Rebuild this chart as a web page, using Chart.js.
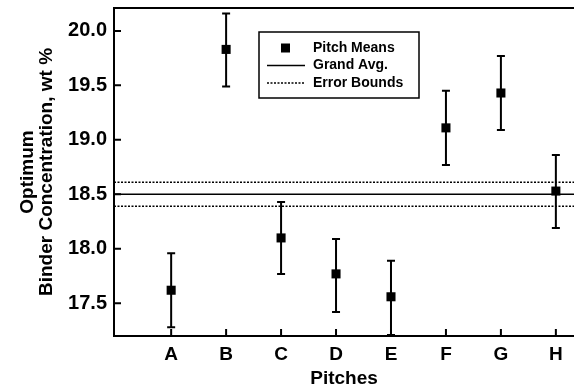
<!DOCTYPE html>
<html>
<head>
<meta charset="utf-8">
<script src="https://cdn.jsdelivr.net/npm/chart.js@4/dist/chart.umd.min.js"></script>
<style>
  html, body { margin: 0; padding: 0; background: #fff; }
  #wrap { width: 574px; height: 392px; }
</style>
</head>
<body>
<div id="wrap"><canvas id="chart" width="574" height="392"></canvas></div>
<script>
const pitches = ["A", "B", "C", "D", "E", "F", "G", "H"];
const pitchMeans = [17.62, 19.83, 18.10, 17.77, 17.56, 19.11, 19.43, 18.53];
const errorHigh = [17.96, 20.16, 18.43, 18.09, 17.89, 19.45, 19.77, 18.86];
const errorLow = [17.28, 19.49, 17.77, 17.42, 17.21, 18.77, 19.09, 18.19];
const grandAvg = 18.5;
const errorBounds = [18.61, 18.39];
const yTicks = [17.5, 18.0, 18.5, 19.0, 19.5, 20.0];
const xRange = [-0.04, 8.33];
const yRange = [17.2, 20.21];

const FONT = "'Liberation Sans', Arial, sans-serif";

// error bars, inward ticks, top frame and the legend box
const extras = {
  id: "extras",
  afterDatasetsDraw(chart) {
    const { ctx, chartArea: a, scales: { x, y } } = chart;
    ctx.save();
    ctx.strokeStyle = "#000";

    // error bars
    ctx.lineWidth = 2;
    pitchMeans.forEach((m, i) => {
      const px = x.getPixelForValue(i + 1);
      const top = y.getPixelForValue(errorHigh[i]);
      const bot = y.getPixelForValue(errorLow[i]);
      ctx.beginPath();
      ctx.moveTo(px, top); ctx.lineTo(px, bot);
      ctx.moveTo(px - 4, top); ctx.lineTo(px + 4, top);
      ctx.moveTo(px - 4, bot); ctx.lineTo(px + 4, bot);
      ctx.stroke();
    });

    // inward ticks
    ctx.lineWidth = 2;
    ctx.beginPath();
    yTicks.forEach(v => {
      const py = y.getPixelForValue(v);
      ctx.moveTo(a.left, py); ctx.lineTo(a.left + 7, py);
    });
    pitches.forEach((p, i) => {
      const px = x.getPixelForValue(i + 1);
      ctx.moveTo(px, a.bottom); ctx.lineTo(px, a.bottom - 7);
    });
    ctx.stroke();

    // top frame
    ctx.lineWidth = 2;
    ctx.beginPath();
    ctx.moveTo(a.left, a.top); ctx.lineTo(a.right, a.top);
    ctx.stroke();

    // legend
    const lx = 259, ly = 32, lw = 160, lh = 66;
    ctx.fillStyle = "#fff";
    ctx.fillRect(lx, ly, lw, lh);
    ctx.lineWidth = 1.5;
    ctx.strokeRect(lx, ly, lw, lh);
    ctx.fillStyle = "#000";
    ctx.font = "bold 14px " + FONT;
    ctx.textBaseline = "middle";
    const rows = [48, 65.5, 83];
    const labels = chart.data.datasets.map(d => d.label);
    ctx.fillRect(281, rows[0] - 4.5, 9, 9);
    ctx.fillText(labels[0], 313, rows[0]);
    ctx.lineWidth = 1.5;
    ctx.beginPath();
    ctx.moveTo(267, rows[1]); ctx.lineTo(305, rows[1]);
    ctx.stroke();
    ctx.fillText(labels[1], 313, rows[1]);
    ctx.setLineDash([2, 1.5]);
    ctx.beginPath();
    ctx.moveTo(267, rows[2]); ctx.lineTo(305, rows[2]);
    ctx.stroke();
    ctx.setLineDash([]);
    ctx.fillText(labels[2], 313, rows[2]);
    ctx.restore();
  }
};

new Chart(document.getElementById("chart"), {
  type: "scatter",
  data: {
    datasets: [
      {
        label: "Pitch Means",
        data: pitchMeans.map((v, i) => ({ x: i + 1, y: v })),
        pointStyle: "rect",
        radius: 6.4,
        backgroundColor: "#000",
        borderColor: "#000",
        borderWidth: 0,
        order: 0
      },
      {
        label: "Grand Avg.",
        type: "line",
        data: xRange.map(v => ({ x: v, y: grandAvg })),
        borderColor: "#000",
        borderWidth: 1.5,
        pointRadius: 0,
        order: 1
      },
      {
        label: "Error Bounds",
        type: "line",
        data: xRange.map(v => ({ x: v, y: errorBounds[0] })),
        borderColor: "#000",
        borderWidth: 1.5,
        borderDash: [2, 1.5],
        pointRadius: 0,
        order: 1
      },
      {
        label: "Error Bounds",
        type: "line",
        data: xRange.map(v => ({ x: v, y: errorBounds[1] })),
        borderColor: "#000",
        borderWidth: 1.5,
        borderDash: [2, 1.5],
        pointRadius: 0,
        order: 1
      }
    ]
  },
  options: {
    responsive: false,
    animation: false,
    layout: { autoPadding: false, padding: { top: 8, right: 0, left: 0, bottom: 0 } },
    plugins: {
      legend: { display: false },
      tooltip: { enabled: false }
    },
    scales: {
      x: {
        type: "linear",
        min: xRange[0],
        max: xRange[1],
        afterBuildTicks: s => { s.ticks = pitches.map((p, i) => ({ value: i + 1 })); },
        afterFit: s => { s.height = 56; s.paddingLeft = 0; s.paddingRight = 0; },
        ticks: {
          callback: v => pitches[v - 1] || "",
          color: "#000",
          font: { family: FONT, size: 19, weight: "bold" },
          padding: 7,
          maxRotation: 0
        },
        grid: { display: false, drawTicks: false },
        border: { color: "#000", width: 2 },
        title: {
          display: true,
          text: "Pitches",
          color: "#000",
          font: { family: FONT, size: 19, weight: "bold" },
          padding: { top: 0, bottom: 2 }
        }
      },
      y: {
        min: yRange[0],
        max: yRange[1],
        afterBuildTicks: s => { s.ticks = yTicks.map(v => ({ value: v })); },
        afterFit: s => { s.width = 114; s.paddingTop = 0; s.paddingBottom = 0; },
        ticks: {
          callback: v => v.toFixed(1),
          color: "#000",
          font: { family: FONT, size: 20, weight: "bold" },
          padding: 7
        },
        grid: { display: false, drawTicks: false },
        border: { color: "#000", width: 2 },
        title: {
          display: true,
          text: ["Optimum", "Binder Concentration, wt %"],
          color: "#000",
          font: { family: FONT, size: 19, weight: "bold", lineHeight: 1.0 },
          padding: { top: 18, bottom: 0 }
        }
      }
    }
  },
  plugins: [extras]
});
</script>
</body>
</html>
